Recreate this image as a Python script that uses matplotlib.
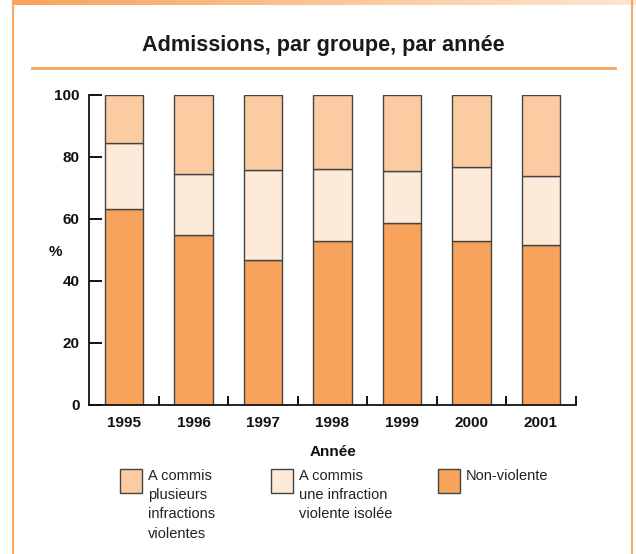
import numpy as np
import matplotlib
matplotlib.use("Agg")
import matplotlib.pyplot as plt
from matplotlib.patches import Rectangle
from matplotlib.lines import Line2D
from matplotlib.colors import LinearSegmentedColormap

# data (percent of admissions)
years = ["1995", "1996", "1997", "1998", "1999", "2000", "2001"]
non_violent = [63.1, 55.0, 46.8, 53.0, 58.8, 53.0, 51.6]
single_violent = [21.4, 19.5, 29.0, 23.1, 16.6, 23.9, 22.4]
multi_violent = [15.5, 25.5, 24.2, 23.9, 24.6, 23.1, 26.0]

legend_labels = ["A commis\nplusieurs\ninfractions\nviolentes",
                 "A commis\nune infraction\nviolente isolée",
                 "Non-violente"]

c_dark = "#F7A35B"
c_mid = "#FEEAD9"
c_top = "#FBCCA2"
edge = "#444444"

plt.rcParams["font.family"] = ["Liberation Sans", "DejaVu Sans"]

W, H = 636, 554
fig = plt.figure(figsize=(W / 100, H / 100), dpi=100)

# orange frame / header strip
bg = fig.add_axes([12 / W, 1 - 5 / H, 1 - 12 / W, 5 / H])
cmap = LinearSegmentedColormap.from_list("hdr", [c_dark, "#FBC597", "#FDE6D2"])
bg.imshow(np.linspace(0, 1, 256).reshape(1, -1), aspect="auto", cmap=cmap)
bg.axis("off")
fig.add_artist(Line2D([12.5 / W, 12.5 / W], [0, 1], transform=fig.transFigure,
                      color="#F9A660", lw=1.5))
fig.add_artist(Line2D([632 / W, 632 / W], [0, 1], transform=fig.transFigure,
                      color="#F9A660", lw=1.5))

fig.text(323 / W, 1 - 45 / H, "Admissions, par groupe, par année",
         ha="center", va="center", fontsize=15.6, fontweight="bold", color="#1a1a1a")
fig.add_artist(Line2D([32 / W, 615 / W], [1 - 68 / H, 1 - 68 / H],
                      transform=fig.transFigure, color="#F7A35B", lw=2))

ax = fig.add_axes([89.3 / W, 1 - 405 / H, (575.7 - 89.3) / W, (405 - 95) / H])
x = np.arange(len(years))
bw = 0.56
ax.bar(x, non_violent, bw, color=c_dark, edgecolor=edge, linewidth=1)
ax.bar(x, single_violent, bw, bottom=non_violent, color=c_mid, edgecolor=edge, linewidth=1)
bot2 = [a + b for a, b in zip(non_violent, single_violent)]
ax.bar(x, multi_violent, bw, bottom=bot2, color=c_top, edgecolor=edge, linewidth=1)

ax.set_xlim(-0.5, len(years) - 0.5)
ax.set_ylim(0, 100)
ax.set_yticks([0, 20, 40, 60, 80, 100])
ax.set_xticks(x)
ax.set_xticklabels(years)
ax.set_xticks(np.arange(len(years)) + 0.5, minor=True)
for s in ["top", "right"]:
    ax.spines[s].set_visible(False)
for s in ["left", "bottom"]:
    ax.spines[s].set_linewidth(1.3)
    ax.spines[s].set_color("#111111")
ax.tick_params(axis="y", direction="in", length=9, width=1.3, pad=7)
ax.tick_params(axis="x", which="major", length=0, pad=8)
ax.tick_params(axis="x", which="minor", direction="in", length=6.5, width=1.3)
for lab in ax.get_xticklabels() + ax.get_yticklabels():
    lab.set_fontweight("bold")
    lab.set_fontsize(11)
    lab.set_color("#111111")

fig.text(55 / W, 1 - 252 / H, "%", ha="center", va="center",
         fontsize=11, fontweight="bold", color="#111111")
fig.text(333 / W, 1 - 452 / H, "Année", ha="center", va="center",
         fontsize=11, fontweight="bold", color="#111111")

# legend
leg_x = [120, 271, 438]
leg_cols = [c_top, c_mid, c_dark]
for lx, col, lab in zip(leg_x, leg_cols, legend_labels):
    fig.add_artist(Rectangle((lx / W, 1 - 493 / H), 22 / W, 24 / H,
                             transform=fig.transFigure, facecolor=col,
                             edgecolor=edge, lw=1))
    fig.text((lx + 28) / W, 1 - 469 / H, lab, ha="left", va="top",
             fontsize=10.5, color="#222222", linespacing=1.47)

fig.savefig("out.png", dpi=100)
